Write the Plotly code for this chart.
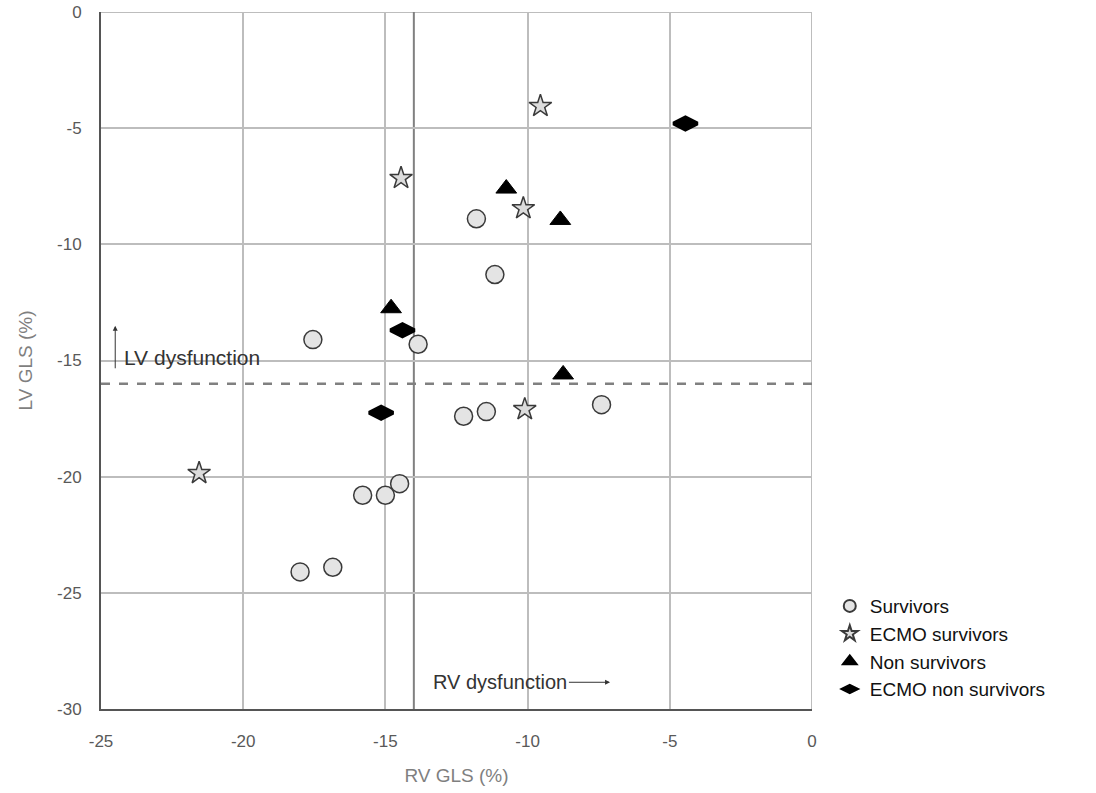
import plotly.graph_objects as go

# Data (RV GLS, LV GLS) in %
surv_x = [-11.8, -11.15, -17.55, -13.85, -12.25, -11.45, -7.4, -15.8, -15.0, -14.5, -18.0, -16.85]
surv_y = [-8.9, -11.3, -14.1, -14.3, -17.4, -17.2, -16.9, -20.8, -20.8, -20.3, -24.1, -23.9]

ecmo_surv_x = [-9.55, -14.45, -10.15, -10.1, -21.55]
ecmo_surv_y = [-4.05, -7.15, -8.45, -17.1, -19.85]

non_surv_x = [-10.75, -8.85, -14.8, -8.75]
non_surv_y = [-7.6, -8.95, -12.75, -15.6]

ecmo_non_x = [-4.45, -14.4, -15.15]
ecmo_non_y = [-4.8, -13.7, -17.25]

rv_cutoff = -14
lv_cutoff = -16

tick_vals_x = [-25, -20, -15, -10, -5, 0]
tick_text_x = ["-25", "-20", "-15", "-10", "-5", "0"]
tick_vals_y = [0, -5, -10, -15, -20, -25, -30]
tick_text_y = ["0", "-5", "-10", "-15", "-20", "-25", "-30"]

FONT = "Liberation Sans"

fig = go.Figure()

fig.add_trace(go.Scatter(x=surv_x, y=surv_y, mode="markers", name="Survivors",
                         marker=dict(symbol="circle", size=18, color="#e4e4e4",
                                     line=dict(color="#3a3a3a", width=1.5))))
fig.add_trace(go.Scatter(x=ecmo_surv_x, y=ecmo_surv_y, mode="markers", name="ECMO survivors",
                         marker=dict(symbol="star", size=17, color="#dcdcdc",
                                     line=dict(color="#3a3a3a", width=1.5))))
fig.add_trace(go.Scatter(x=non_surv_x, y=non_surv_y, mode="markers", name="Non survivors",
                         marker=dict(symbol="triangle-up", size=18, color="black",
                                     line=dict(color="black", width=1))))
fig.add_trace(go.Scatter(x=ecmo_non_x, y=ecmo_non_y, mode="markers", name="ECMO non survivors",
                         marker=dict(symbol="diamond-wide", size=17, color="black",
                                     line=dict(color="black", width=4))))

# Frame top/right (gray grid-like lines)
fig.add_shape(type="line", x0=-25, x1=0, y0=0, y1=0, xref="x", yref="y",
              line=dict(color="#bdbdbd", width=2), layer="below")
fig.add_shape(type="line", x0=0, x1=0, y0=-30, y1=0, xref="x", yref="y",
              line=dict(color="#bdbdbd", width=2), layer="below")

# Cutoff lines
fig.add_shape(type="line", x0=rv_cutoff, x1=rv_cutoff, y0=-30, y1=0, xref="x", yref="y",
              line=dict(color="#808080", width=2), layer="below")
fig.add_shape(type="line", x0=-25, x1=0, y0=lv_cutoff, y1=lv_cutoff, xref="x", yref="y",
              line=dict(color="#808080", width=2.5, dash="dash"), layer="below")

# Annotations
fig.add_annotation(x=-24.25, y=-14.85, xref="x", yref="y", text="LV dysfunction", showarrow=False,
                   xanchor="left", yanchor="middle", font=dict(family=FONT, size=21, color="#333333"))
fig.add_annotation(x=-24.5, y=-13.5, ax=-24.5, ay=-15.4, xref="x", yref="y", axref="x", ayref="y",
                   text="", showarrow=True, arrowhead=2, arrowsize=1, arrowwidth=1, arrowcolor="#333333")
fig.add_annotation(x=-13.4, y=-28.85, xref="x", yref="y", text="RV dysfunction", showarrow=False,
                   xanchor="left", yanchor="middle", font=dict(family=FONT, size=20, color="#333333"))
fig.add_annotation(x=-7.1, y=-28.85, ax=-8.6, ay=-28.85, xref="x", yref="y", axref="x", ayref="y",
                   text="", showarrow=True, arrowhead=2, arrowsize=1, arrowwidth=1, arrowcolor="#333333")

fig.update_layout(
    width=1096, height=793,
    margin=dict(l=101, r=284, t=12, b=84, autoexpand=False),
    paper_bgcolor="white", plot_bgcolor="white",
    showlegend=True,
    legend=dict(x=1.025, y=0.175, xanchor="left", yanchor="top",
                font=dict(family=FONT, size=19, color="#111111"),
                tracegroupgap=0, itemsizing="constant", bgcolor="rgba(0,0,0,0)"),
    font=dict(family=FONT, color="#595959"),
)

fig.update_xaxes(range=[-25, 0], tickvals=tick_vals_x, ticktext=tick_text_x, showgrid=True,
                 gridcolor="#bdbdbd", gridwidth=2, automargin=False,
                 zeroline=False, showline=True, linecolor="#555555", linewidth=2, mirror=False,
                 ticks="", tickfont=dict(family=FONT, size=17, color="#595959"), ticklabelstandoff=16,
                 title=dict(text="RV GLS (%)", font=dict(family=FONT, size=19, color="#7f7f7f"),
                            standoff=18))
fig.update_yaxes(range=[-30, 0], tickvals=tick_vals_y, ticktext=tick_text_y, showgrid=True,
                 gridcolor="#bdbdbd", gridwidth=2, automargin=False,
                 zeroline=False, showline=True, linecolor="#555555", linewidth=2, mirror=False,
                 ticks="", tickfont=dict(family=FONT, size=17, color="#595959"),
                 ticklabelstandoff=14,
                 title=dict(text="LV GLS (%)", font=dict(family=FONT, size=19, color="#7f7f7f"),
                            standoff=19))

fig.write_html("out.html")
